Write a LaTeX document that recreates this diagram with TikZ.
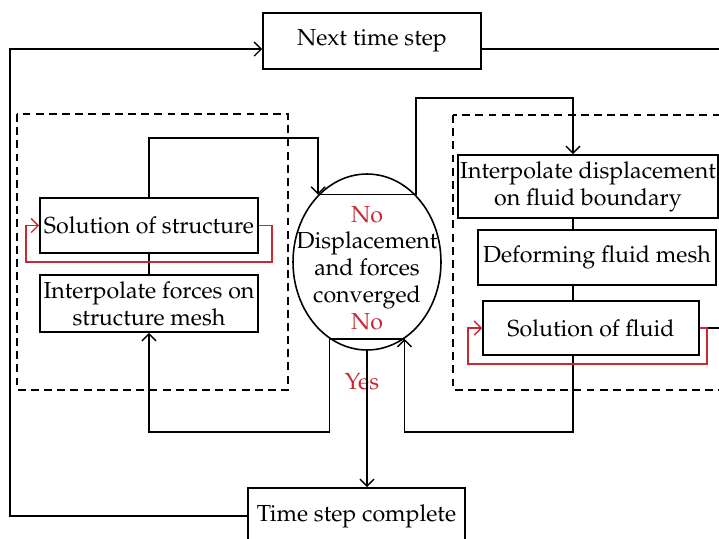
\documentclass[tikz,border=0pt]{standalone}
\usepackage[T1]{fontenc}
\usepackage{mathpazo}
\usetikzlibrary{arrows.meta,shapes.geometric}
\definecolor{loopred}{RGB}{200,40,50}
\begin{document}
\begin{tikzpicture}[x=0.02cm,y=-0.02cm,
    font=\fontsize{13.2}{15.4}\selectfont,
    box/.style={draw,line width=0.9pt,inner sep=0pt,align=center},
    line/.style={line width=0.8pt},
    arr/.style={line,-{Straight Barb[length=4pt,width=8pt]}},
    redloop/.style={arr,loopred},
    region/.style={line width=0.8pt,dash pattern=on 4.5pt off 3pt},
    note/.style={text=loopred}]
      \useasboundingbox (0,0) rectangle (719,538);
      \clip (0,0) rectangle (719,538);
      % dashed regions
      \draw[region] (17,114) rectangle (288,390);
      \draw[region] (453,115) rectangle (740,390);
      % nodes
      \node[box,minimum width=4.36cm,minimum height=1.12cm] (next) at (372,41) {Next time step};
      \node[box,minimum width=4.34cm,minimum height=1.12cm] (done) at (356.5,516) {Time step complete};
      \node[box,minimum width=4.36cm,minimum height=1.1cm] (sstruct) at (149,225.5) {Solution of structure};
      \node[box,minimum width=4.36cm,minimum height=1.14cm] (iforce) at (149,303.5) {Interpolate forces on\\structure mesh};
      \node[draw,ellipse,line width=0.9pt,minimum width=2.96cm,minimum height=3.52cm] (conv) at (367,262) {};
      \node[align=center] (convtxt) at (367,270) {Displacement\\and forces\\converged};
      \node[box,minimum width=5.2cm,minimum height=1.26cm] (idisp) at (588,186.5) {Interpolate displacement\\on fluid boundary};
      \node[box,minimum width=4.76cm,minimum height=1.1cm] (dmesh) at (597,257.5) {Deforming fluid mesh};
      \node[box,minimum width=4.32cm,minimum height=1.08cm] (sfluid) at (591,328) {Solution of fluid};
      \node[note] (no1) at (367,215) {No};
      \node[note] (no2) at (367,322) {No};
      \node[note] (yes) at (362,382) {Yes};
      % corners
      \coordinate (lrail) at (done.west -| 10,0);
      \coordinate (rrail) at (745,49);
      \coordinate (ltop) at (conv.126 |- 0,138);
      \coordinate (rtop) at (573,98);
      \coordinate (rbot) at (conv.296 |- 0,432);
      \coordinate (lbot) at (conv.244 |- 0,432);
      \coordinate (sl) at (26,262);
      \coordinate (sr) at (272,262);
      \coordinate (fl) at (468,364);
      \coordinate (fr) at (707,364);
      \begin{scope}[line]
        \draw[arr] (done.west) -- (lrail) |- ([yshift=-0.16cm]next.west);
        \draw ([yshift=-0.16cm]next.east) -| (rrail) |- (sfluid.east);
        \draw[arr] (sstruct.north) |- (ltop) -- (conv.126);
        \draw[arr] (conv.126) -- (conv.54) |- (rtop) -- (rtop |- idisp.north);
        \draw (rtop |- idisp.south) -- (rtop |- dmesh.north);
        \draw (rtop |- dmesh.south) -- (rtop |- sfluid.north);
        \draw[arr] (rtop |- sfluid.south) |- (rbot) -- (conv.296);
        \draw[arr] (conv.296) -- (conv.244) -- (lbot) -| (iforce.south);
        \draw (sstruct.south) -- (iforce.north);
        \draw[arr] (conv.south) -- (conv.south |- done.north);
      \end{scope}
      \draw[redloop] (sstruct.east) -| (sr) -- (sl) |- (sstruct.west);
      \draw[redloop] (sfluid.east) -| (fr) -- (fl) |- (sfluid.west);
\end{tikzpicture}
\end{document}
